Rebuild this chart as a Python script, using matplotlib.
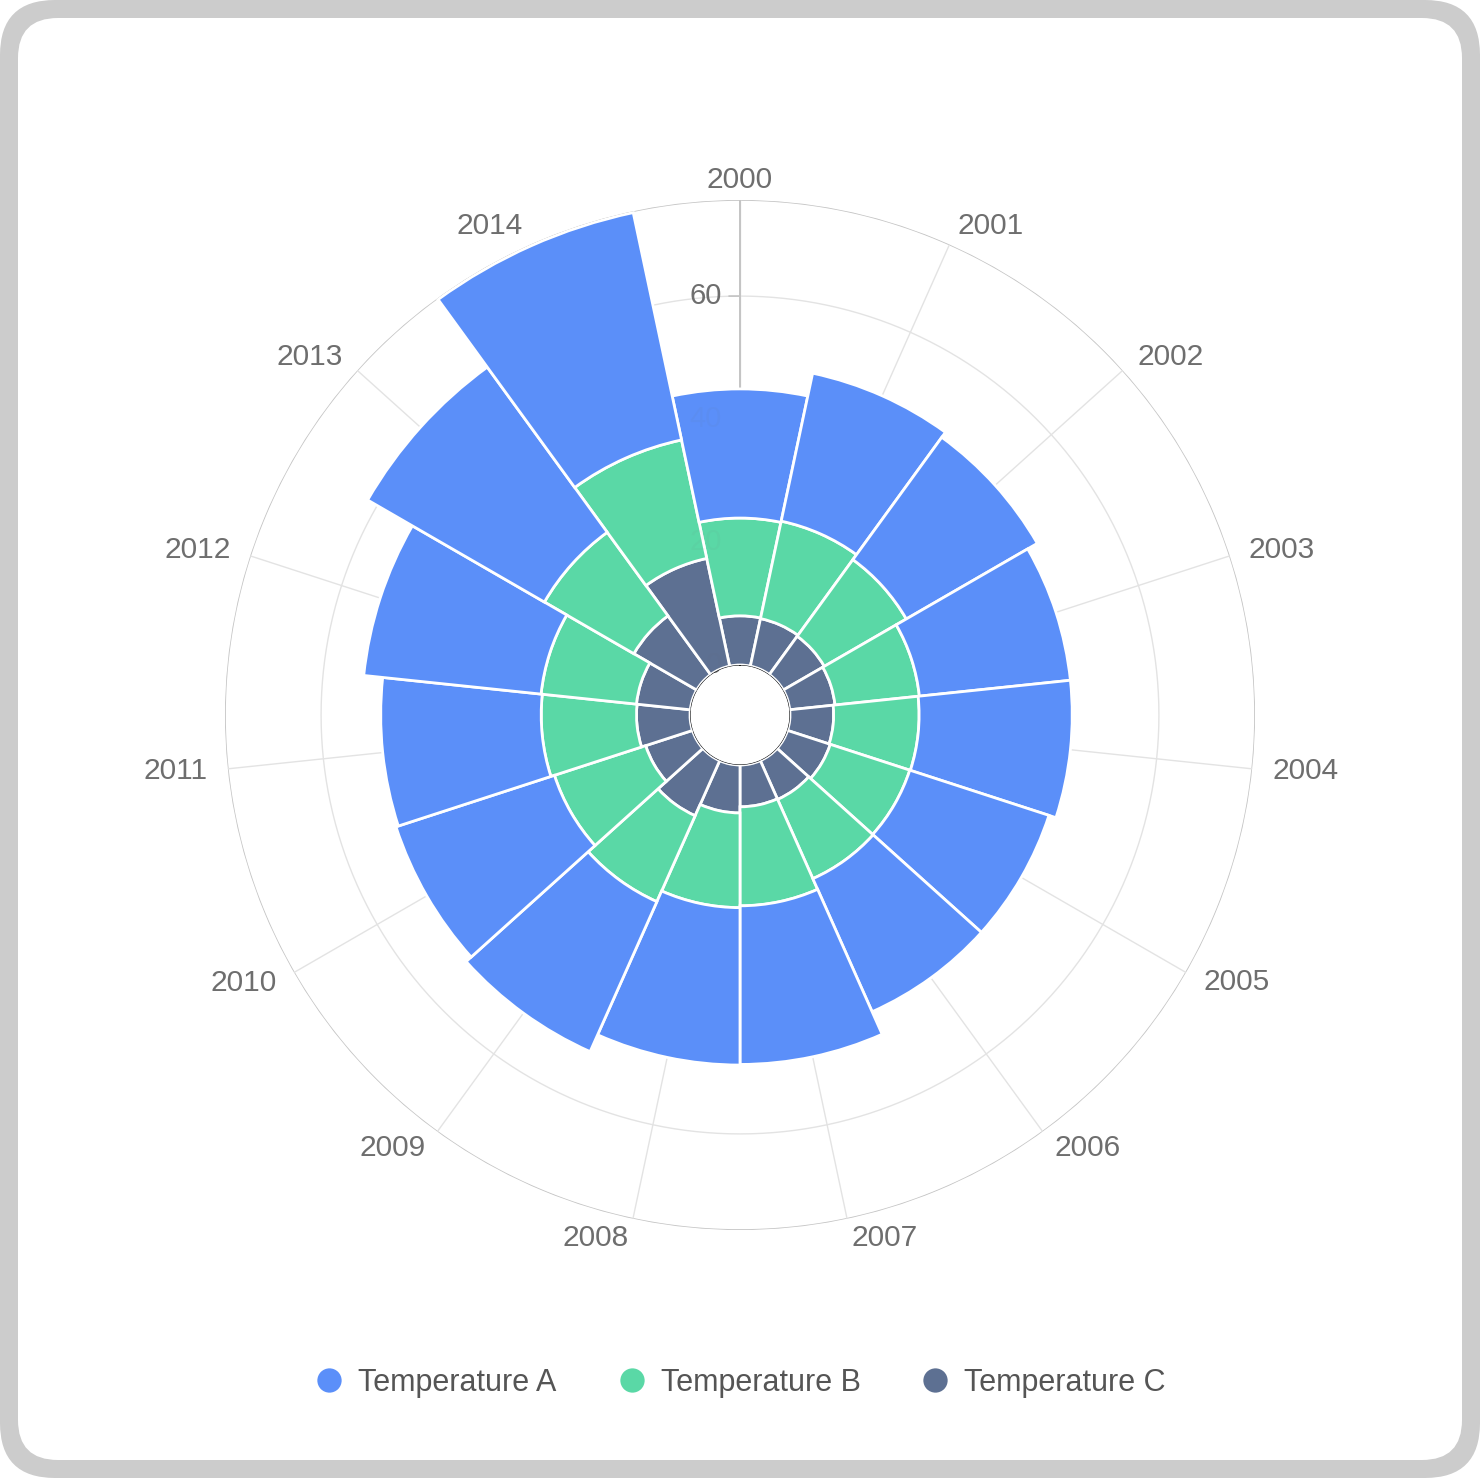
import numpy as np
import matplotlib
matplotlib.use("Agg")
import matplotlib.pyplot as plt
from matplotlib.lines import Line2D
from matplotlib.patches import FancyBboxPatch

plt.rcParams['font.family'] = ['Liberation Sans', 'DejaVu Sans']

# data
years = ['2000', '2001', '2002', '2003', '2004', '2005', '2006', '2007',
         '2008', '2009', '2010', '2011', '2012', '2013', '2014']
temp_c = [8.0, 7.9, 7.7, 7.4, 7.1, 7.3, 6.9, 6.8, 7.8, 9.8, 8.0, 8.7, 8.8, 11.8, 17.9]
temp_b = [15.9, 16.2, 15.4, 13.8, 13.9, 13.6, 14.1, 16.1, 15.4, 15.3, 15.6, 15.5, 15.6, 16.8, 19.7]
temp_a = [21.0, 24.6, 24.6, 24.7, 24.9, 23.8, 23.7, 25.8, 25.6, 26.7, 27.1, 26.1, 29.0, 33.2, 37.8]
radius_ticks = [0, 20, 40, 60]

col_a = '#5B8FF9'
col_b = '#5AD8A6'
col_c = '#5D7092'
grid_col = '#e3e3e3'
axis_col = '#c4c4c4'
label_col = '#6e6e6e'

fig = plt.figure(figsize=(14.8, 14.78), dpi=100)
fig.patch.set_facecolor('white')

# rounded grey frame
frame = FancyBboxPatch((0, 0), 14.8, 14.78, boxstyle='round,pad=0,rounding_size=0.55',
                       transform=fig.dpi_scale_trans, facecolor='#cccccc', edgecolor='none', zorder=-3)
inner = FancyBboxPatch((0.18, 0.18), 14.44, 14.42, boxstyle='round,pad=0,rounding_size=0.4',
                       transform=fig.dpi_scale_trans, facecolor='white', edgecolor='none', zorder=-2)
fig.patches.extend([frame, inner])

# polar axes: centre (740, 715) px, outer radius 515 px
ax = fig.add_axes([225 / 1480, (1478 - 715 - 515) / 1478, 1030 / 1480, 1030 / 1478],
                  projection='polar')
ax.patch.set_alpha(0)
ax.set_theta_zero_location('N')
ax.set_theta_direction(-1)

n = len(years)
theta = np.arange(n) * 2 * np.pi / n
width = 2 * np.pi / n

c = np.array(temp_c)
b = np.array(temp_b)
a = np.array(temp_a)
totals = a + b + c
r_max = totals.max() * 1.003
ax.set_ylim(0, r_max)
ax.set_rorigin(-r_max * 50 / 465)

ax.set_xticks([])
ax.set_yticks([])
ax.grid(False)
for sp in ax.spines.values():
    sp.set_visible(False)

# grid circles and radial lines
tt = np.linspace(0, 2 * np.pi, 721)
for v in radius_ticks[1:]:
    ax.plot(tt, np.full_like(tt, v), color=grid_col, lw=1.0, zorder=1)
ax.plot(tt, np.full_like(tt, r_max), color=axis_col, lw=1.2, zorder=1)
for t in theta:
    ax.plot([t, t], [5, r_max * 1.015], color=grid_col, lw=1.0, zorder=1)

# radius axis
ax.plot([0, 0], [5, r_max * 1.015], color=axis_col, lw=1.4, zorder=1.2)
for v in radius_ticks:
    if v > 0:
        ax.annotate('', xy=(0, v), xytext=(-11, 0), textcoords='offset pixels',
                    arrowprops=dict(arrowstyle='-', color=axis_col, lw=1.2,
                                    shrinkA=0, shrinkB=0), zorder=1.2)
    for z, al in [(1.3, 1.0), (5, 0.05)]:
        ax.annotate(str(v), xy=(0, v), xytext=(-18, 0), textcoords='offset pixels',
                    ha='right', va='center', fontsize=21, color=label_col,
                    alpha=al, zorder=z)

# stacked bars
kw = dict(width=width, edgecolor='white', linewidth=2.0, align='center', zorder=3)
ax.bar(theta, c, bottom=0, color=col_c, **kw)
ax.bar(theta, b, bottom=c, color=col_b, **kw)
ax.bar(theta, a, bottom=c + b, color=col_a, **kw)

# angle labels
for t, yr in zip(theta, years):
    s, co = np.sin(t), np.cos(t)
    if s > 0.05:
        ha = 'left'
    elif s < -0.05:
        ha = 'right'
    else:
        ha = 'center'
    ax.annotate(yr, xy=(t, r_max), xytext=(20 * s, 20 * co), textcoords='offset pixels',
                ha=ha, va='center', fontsize=21.5, color=label_col, zorder=4,
                annotation_clip=False)

handles = [Line2D([], [], marker='o', ls='none', markersize=17.5, color=col, markeredgewidth=0)
           for col in (col_a, col_b, col_c)]
fig.legend(handles, ['Temperature A', 'Temperature B', 'Temperature C'],
           loc='center', bbox_to_anchor=(0.5, 1 - 1383 / 1478), ncol=3, frameon=False,
           fontsize=22, labelcolor='#555555', handlelength=1.0, handletextpad=0.45,
           columnspacing=1.95)

fig.savefig('out.png', dpi=100, facecolor='white')
